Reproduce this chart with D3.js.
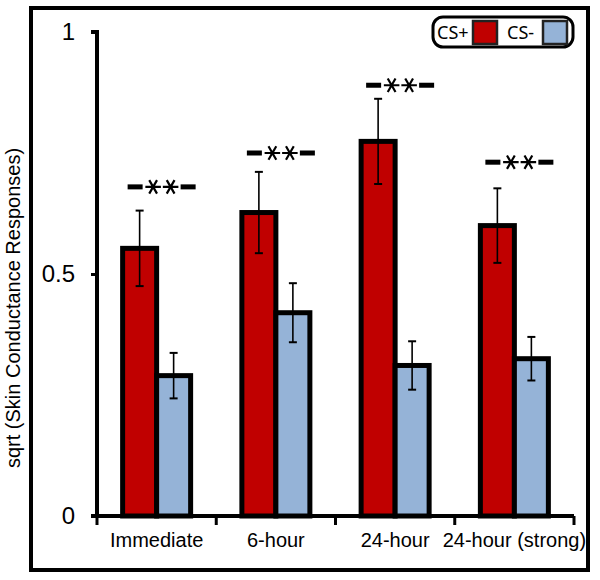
<!DOCTYPE html>
<html><head><meta charset="utf-8">
<script src="https://cdn.jsdelivr.net/npm/d3@7"></script>
<style>body{margin:0;background:#fff}svg{display:block}</style>
</head><body>
<svg id="c" width="600" height="580"></svg>
<script>
const categories = ["Immediate", "6-hour", "24-hour", "24-hour (strong)"];
const seriesNames = ["CS+", "CS-"];
const csPlus = [0.553, 0.627, 0.774, 0.600];
const csPlusErr = [0.078, 0.084, 0.088, 0.077];
const csMinus = [0.290, 0.420, 0.311, 0.325];
const csMinusErr = [0.047, 0.061, 0.050, 0.045];
const sigLabelY = [0.68, 0.75, 0.89, 0.731];
const yTicks = [0, 0.5, 1];
const yTickLabels = ["0", "0.5", "1"];
const colors = ["#C00000", "#95B3D7"];

const svg = d3.select("#c");
const font = "'Liberation Sans', Arial, sans-serif";

// outer frame
svg.append("rect").attr("x", 31).attr("y", 8).attr("width", 557).attr("height", 562)
  .attr("fill", "none").attr("stroke", "#000").attr("stroke-width", 4);

const x0 = 97, x1 = 574, yBase = 516, yTop = 32;
const x = d3.scaleBand().domain(categories).range([x0, x1]).padding(0);
const y = d3.scaleLinear().domain([0, 1]).range([yBase, yTop]);
const sub = d3.scaleBand().domain(seriesNames).range([-34, 34]).padding(0);

const data = categories.map((c, i) => ({
  cat: c,
  vals: [
    {s: "CS+", v: csPlus[i], e: csPlusErr[i], col: colors[0]},
    {s: "CS-", v: csMinus[i], e: csMinusErr[i], col: colors[1]}
  ],
  sig: sigLabelY[i]
}));

const groups = svg.selectAll("g.grp").data(data).enter().append("g")
  .attr("transform", d => `translate(${x(d.cat) + x.bandwidth()/2},0)`);

// bars
groups.selectAll("rect.bar").data(d => d.vals).enter().append("rect")
  .attr("x", d => sub(d.s)).attr("width", sub.bandwidth())
  .attr("y", d => y(d.v)).attr("height", d => y(0) - y(d.v))
  .attr("fill", d => d.col).attr("stroke", "#000").attr("stroke-width", 5);

// error bars
groups.selectAll("g.err").data(d => d.vals).enter().append("g").each(function(d) {
  const g = d3.select(this);
  const cx = sub(d.s) + sub.bandwidth()/2;
  g.append("line").attr("x1", cx).attr("x2", cx).attr("y1", y(d.v - d.e)).attr("y2", y(d.v + d.e))
    .attr("stroke", "#000").attr("stroke-width", 1.6);
  [d.v - d.e, d.v + d.e].forEach(v => {
    g.append("line").attr("x1", cx - 4).attr("x2", cx + 4).attr("y1", y(v)).attr("y2", y(v))
      .attr("stroke", "#000").attr("stroke-width", 2);
  });
});

// significance marks "-**-"
const ast = d3.symbol().type(d3.symbolAsterisk).size(170);
groups.each(function(d) {
  const g = d3.select(this).append("g").attr("transform", `translate(5,${y(d.sig)})`);
  g.append("rect").attr("x", -34).attr("y", -2.5).attr("width", 15).attr("height", 5).attr("fill", "#000");
  g.append("rect").attr("x", 19).attr("y", -2.5).attr("width", 15).attr("height", 5).attr("fill", "#000");
  [-8.5, 9].forEach(dx => {
    g.append("path").attr("d", ast()).attr("transform", `translate(${dx},0) rotate(90)`)
      .attr("fill", "none").attr("stroke", "#000").attr("stroke-width", 2.2);
  });
});

// y axis
const yAxis = d3.axisLeft(y).tickValues(yTicks).tickFormat((d, i) => yTickLabels[i]).tickSize(6).tickPadding(16);
const ya = svg.append("g").attr("transform", `translate(${x0},0)`).call(yAxis);
ya.select(".domain").attr("stroke", "#000").attr("stroke-width", 4).attr("d", `M-6,${yTop}H0V${yBase}`);
ya.selectAll(".tick line").attr("stroke", "#000").attr("stroke-width", 3);
ya.selectAll(".tick text").attr("font-family", font).attr("font-size", 24).attr("fill", "#000");

// x axis
const xAxis = d3.axisBottom(x).tickSize(0).tickPadding(17);
const xa = svg.append("g").attr("transform", `translate(0,${yBase})`).call(xAxis);
xa.select(".domain").attr("stroke", "#000").attr("stroke-width", 4).attr("d", `M${x0 - 6},0H${x1}`);
xa.selectAll(".tick text").attr("font-family", font).attr("font-size", 20).attr("fill", "#000");
const bounds = categories.map(c => x(c)).concat([x1]);
xa.selectAll("line.bnd").data(bounds).enter().append("line").attr("class", "bnd")
  .attr("x1", d => d).attr("x2", d => d).attr("y1", 0).attr("y2", 9)
  .attr("stroke", "#000").attr("stroke-width", 3);

// y title
svg.append("text").attr("transform", `translate(20,308) rotate(-90)`).attr("text-anchor", "middle")
  .attr("font-family", font).attr("font-size", 20).attr("fill", "#000")
  .text("sqrt (Skin Conductance Responses)");

// legend
const lg = svg.append("g");
lg.append("rect").attr("x", 433).attr("y", 17).attr("width", 140).attr("height", 30).attr("rx", 10)
  .attr("fill", "#fff").attr("stroke", "#000").attr("stroke-width", 3);
const lfont = "'Noto Sans', 'Open Sans', sans-serif";
const legX = [437, 507];
seriesNames.forEach((s, i) => {
  lg.append("text").attr("x", legX[i]).attr("y", 39).attr("font-family", lfont).attr("font-size", 18)
    .attr("fill", "#000").text(s);
  lg.append("rect").attr("x", legX[i] + 36).attr("y", 21).attr("width", 24).attr("height", 23)
    .attr("fill", colors[i]).attr("stroke", "#222").attr("stroke-width", 2.5);
});
</script>
</body></html>
